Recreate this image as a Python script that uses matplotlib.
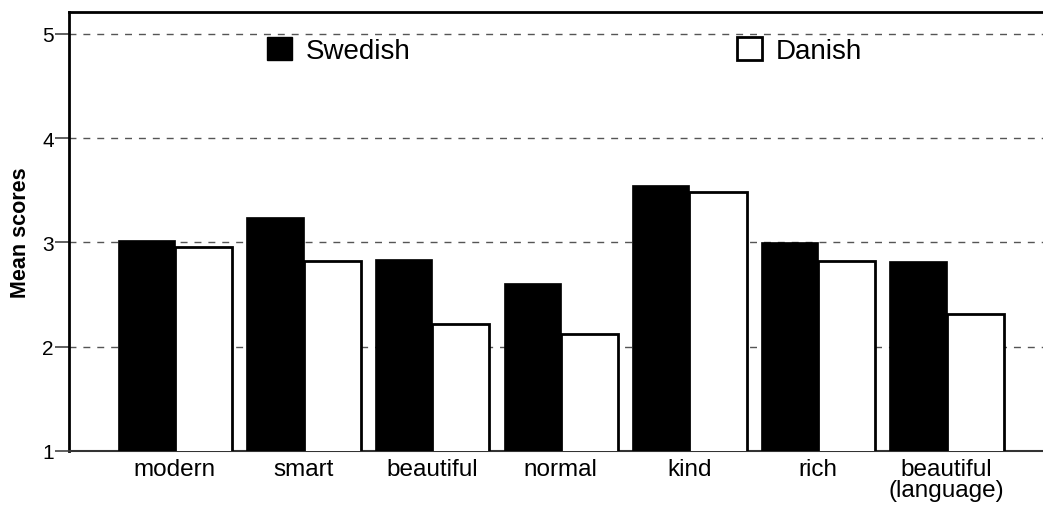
import matplotlib
matplotlib.use("Agg")
import matplotlib.pyplot as plt
import numpy as np
from matplotlib.patches import Patch

categories = ["modern", "smart", "beautiful", "normal", "kind", "rich", "beautiful\n(language)"]
swedish = [3.02, 3.24, 2.84, 2.61, 3.55, 3.00, 2.82]
danish = [2.96, 2.82, 2.22, 2.12, 3.48, 2.82, 2.31]
yticks = [1, 2, 3, 4, 5]

plt.rcParams['font.family'] = ['Liberation Sans', 'DejaVu Sans']

W, H = 1043, 506
fig = plt.figure(figsize=(W / 100, H / 100), dpi=100)
ax = fig.add_axes([69 / W, (H - 452) / H, 1 - 69 / W + 0.02, (452 - 13) / H])

x = np.arange(len(categories))
bw = 0.445
ax.bar(x - bw / 2, swedish, width=bw, bottom=0, color="black", edgecolor="black",
       linewidth=0.5, zorder=3)
ax.bar(x + bw / 2, danish, width=bw, bottom=0, color="white", edgecolor="black",
       linewidth=2, zorder=3)

ax.set_ylim(1, 5.21)
ax.set_xlim(-0.824, 6.75 + 0.02 * W / 128.6)
ax.set_yticks(yticks)
ax.set_yticklabels([str(t) for t in yticks], fontsize=15)
ax.set_xticks(x)
ax.set_xticklabels(categories, fontsize=17.5, linespacing=0.95)
ax.tick_params(axis='x', length=0, pad=5)
ax.tick_params(axis='y', length=10, width=1.2, color="#444444", pad=1)

for y in yticks[1:]:
    ax.axhline(y, color="#555555", linestyle=(0, (5, 5)), linewidth=1, zorder=1)

ax.spines['right'].set_visible(False)
ax.spines['left'].set_linewidth(2)
ax.spines['top'].set_linewidth(2)
ax.spines['bottom'].set_linewidth(1.5)
ax.spines['bottom'].set_color("#333333")

ax.set_ylabel("Mean scores", fontsize=15.5, fontweight="bold", labelpad=8)

h1 = [Patch(facecolor="black", edgecolor="black")]
h2 = [Patch(facecolor="white", edgecolor="black", linewidth=2)]
leg1 = fig.legend(h1, ["Swedish"], loc="upper left", bbox_to_anchor=(267 / W, 1 - 38 / H),
                  frameon=False, fontsize=20, handlelength=0.9, handleheight=0.9,
                  handletextpad=0.5, borderpad=0, borderaxespad=0)
leg2 = fig.legend(h2, ["Danish"], loc="upper left", bbox_to_anchor=(737 / W, 1 - 38 / H),
                  frameon=False, fontsize=20, handlelength=0.9, handleheight=0.9,
                  handletextpad=0.5, borderpad=0, borderaxespad=0)

fig.savefig("out.png", dpi=100)
